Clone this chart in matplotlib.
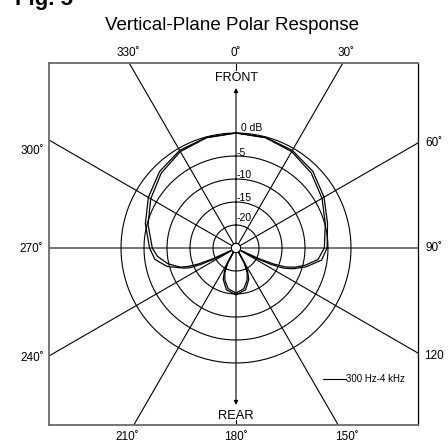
import numpy as np
import matplotlib.pyplot as plt
from matplotlib.lines import Line2D

plt.rcParams["font.family"] = ["Liberation Sans", "DejaVu Sans"]

# --- Data: angle in degrees clockwise from front, level in dB ---
theta_a = [0, 15, 30, 45, 60, 75, 90, 98, 105, 110, 113, 115, 117, 119,
           145, 150, 153, 158, 167, 180, 193, 202, 207, 210, 215,
           241, 243, 245, 247, 249, 255, 262, 270, 285, 300, 315, 330, 345, 360]
db_a = [0, -0.1, -0.5, -1.4, -2.9, -4.4, -5.2, -6.2, -9.2, -11.8, -13.8, -16.5, -20, -24,
        -24, -21.5, -19.5, -17.6, -15.7, -14.8, -15.7, -17.6, -19.5, -21.5, -24,
        -24, -20, -16.5, -14, -12.8, -9.5, -7.2, -6.2, -4.6, -3.0, -1.5, -0.5, -0.1, 0]

theta_b = [0, 15, 30, 45, 60, 75, 90, 98, 104, 108, 111, 113, 115, 117,
           148, 152, 156, 161, 169, 180, 191, 199, 204, 208, 212,
           243, 245, 247, 249, 251, 257, 264, 270, 285, 300, 315, 330, 345, 360]
db_b = [0, -0.2, -0.8, -1.9, -3.4, -4.9, -5.8, -7.0, -9.5, -11.5, -13.5, -16, -19.5, -24,
        -24, -21, -19, -17.6, -16, -15.2, -16, -17.6, -19, -21, -24,
        -24, -19.5, -16, -13.8, -12.2, -9.8, -7.8, -6.8, -5.2, -3.6, -2.0, -0.8, -0.2, 0]

ring_db = [-20, -15, -10, -5, 0]
spoke_angles = [30, 60, 120, 150, 210, 240, 300, 330]
legend_label = "300 Hz-4 kHz"

DEG = "\u02da"

fig = plt.figure(figsize=(4.48, 4.45), dpi=100)

# --- Background frame, in pixel units around the plot centre ---
W, H = 448, 445
cx, cy = 236, 248
left, right, top, bottom = 49, 418, 63, 425
bg = fig.add_axes([left / W, (H - bottom) / H, (right - left) / W, (bottom - top) / H])
bg.set_xlim(left - cx, right - cx)
bg.set_ylim(cy - bottom, cy - top)
bg.set_xticks([])
bg.set_yticks([])
for side in ["left", "top", "bottom"]:
    bg.spines[side].set_color("#6a6a6a")
    bg.spines[side].set_linewidth(1.3)
bg.spines["right"].set_color("black")
bg.spines["right"].set_linewidth(0.9)

# spokes
for a in spoke_angles:
    t = np.deg2rad(a)
    bg.plot([5 * np.sin(t), 500 * np.sin(t)], [5 * np.cos(t), 500 * np.cos(t)],
            color="black", lw=0.8)
bg.axhline(0, color="#6a6a6a", lw=1.3)

# front / rear axis with arrows
bg.annotate("", xy=(0, 160), xytext=(0, 4),
            arrowprops=dict(arrowstyle="-|>", color="black", lw=0.8,
                            mutation_scale=6, shrinkA=0, shrinkB=0))
bg.annotate("", xy=(0, -157), xytext=(0, -4),
            arrowprops=dict(arrowstyle="-|>", color="black", lw=0.8,
                            mutation_scale=6, shrinkA=0, shrinkB=0))
bg.plot([0, 0], [185, 178], color="black", lw=0.8)
bg.plot([0, 0], [-177, -172], color="black", lw=0.8)
bg.text(0, 170, "FRONT", ha="center", va="center", fontsize=9)
bg.text(0, -168, "REAR", ha="center", va="center", fontsize=9.3)

# dB labels
bg.text(5, 120, "0 dB", ha="left", va="center", fontsize=7.5)
for lab, y in [("-5", 95), ("-10", 73), ("-15", 50), ("-20", 30)]:
    bg.text(1, y, lab, ha="left", va="center", fontsize=7.5)

# angle labels
kw = dict(fontsize=8.5, va="center", clip_on=False)
bg.text(-108, 195, "330" + DEG, ha="center", **kw)
bg.text(0, 195, "0" + DEG, ha="center", **kw)
bg.text(110, 195, "30" + DEG, ha="center", **kw)
bg.text(-192, 97, "300" + DEG, ha="right", **kw)
bg.text(189, 105, "60" + DEG, ha="left", **kw)
bg.text(-193, -1, "270" + DEG, ha="right", **kw)
bg.text(189, 0, "90" + DEG, ha="left", **kw)
bg.text(-192, -110, "240" + DEG, ha="right", **kw)
bg.text(188, -108, "120", ha="left", **kw)
bg.text(-109, -189, "210" + DEG, ha="center", **kw)
bg.text(0, -189, "180" + DEG, ha="center", **kw)
bg.text(111, -189, "150" + DEG, ha="center", **kw)

bg.legend(handles=[Line2D([], [], color="black", lw=0.8)], labels=[legend_label],
          loc="center left", bbox_to_anchor=(0.7425, 0.126), frameon=False,
          fontsize=7, handlelength=2.35, handletextpad=0.05,
          borderpad=0, borderaxespad=0)

# --- Polar response (0 dB ring = 115 px radius) ---
R = 115
pax = fig.add_axes([(cx - R) / W, (H - cy - R) / H, 2 * R / W, 2 * R / H],
                   projection="polar")
pax.set_theta_zero_location("N")
pax.set_theta_direction(-1)
pax.set_rlim(-25, 0)
pax.axis("off")

full = np.linspace(0, 2 * np.pi, 361)
for db in ring_db:
    pax.plot(full, np.full_like(full, db), color="black", lw=0.8, clip_on=False)

pax.plot(np.deg2rad(theta_a), db_a, color="black", lw=0.9, clip_on=False, zorder=3)
pax.plot(np.deg2rad(theta_b), db_b, color="black", lw=0.9, clip_on=False, zorder=3)

pax.fill(full, np.full_like(full, -24), facecolor="white", edgecolor="black",
         lw=0.8, zorder=5, clip_on=False)

# --- Titles ---
fig.text(231.5 / W, (H - 30) / H, "Vertical-Plane Polar Response",
         ha="center", va="baseline", fontsize=13.5)
fig.text(15 / W, (H - 5) / H, "Fig. 5", ha="left", va="baseline",
         fontsize=16, fontweight="bold")

fig.savefig("out.png", dpi=100)
